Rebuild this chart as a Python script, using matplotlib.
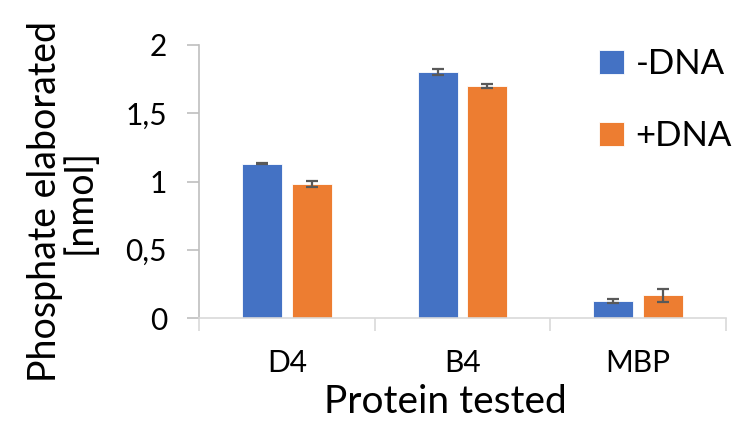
import matplotlib
matplotlib.use("Agg")
import matplotlib.pyplot as plt
import numpy as np

categories = ["D4", "B4", "MBP"]
series_names = ["-DNA", "+DNA"]
minus_dna = [1.13, 1.80, 0.124]
minus_err = [0.005, 0.022, 0.012]
plus_dna = [0.985, 1.70, 0.165]
plus_err = [0.022, 0.015, 0.045]
yticks = [0, 0.5, 1, 1.5, 2]
ytick_labels = ["0", "0,5", "1", "1,5", "2"]

plt.rcParams['font.family'] = ['Lato', 'DejaVu Sans']

fig = plt.figure(figsize=(7.40, 4.29), dpi=100)
ax = fig.add_axes([199/740, 1-318/429, (726-199)/740, (318-45)/429])

x = np.arange(len(categories))
w = 0.228
off = 0.142
ekw = dict(ecolor='#595959', elinewidth=1.6, capsize=4.5, capthick=1.6)
ax.bar(x - off, minus_dna, w, yerr=minus_err, color='#4472C4', label=series_names[0],
       error_kw=ekw, edgecolor='white', linewidth=0.6)
ax.bar(x + off, plus_dna, w, yerr=plus_err, color='#ED7D31', label=series_names[1],
       error_kw=ekw, edgecolor='white', linewidth=0.6)

ax.set_xlim(-0.5, 2.5)
ax.set_ylim(0, 2)
ax.set_yticks(yticks)
ax.set_yticklabels(ytick_labels, fontsize=21.5)
ax.set_xticks(x)
ax.set_xticklabels(categories, fontsize=21.5)
ax.tick_params(axis='x', length=0, pad=22)
ax.set_xticks([-0.5, 0.5, 1.5, 2.5], minor=True)
ax.tick_params(axis='x', which='minor', length=9, color='#d9d9d9', width=1.2)
ax.tick_params(axis='y', length=9, color='#bfbfbf', width=1.2, pad=14)

for s in ['top', 'right']:
    ax.spines[s].set_visible(False)
ax.spines['left'].set_color('#bfbfbf')
ax.spines['bottom'].set_color('#d9d9d9')
ax.spines['left'].set_linewidth(1.2)
ax.spines['bottom'].set_linewidth(1.2)

ax.set_xlabel("Protein tested", fontsize=28)
ax.xaxis.set_label_coords((445-199)/527, -(402-318)/273)
ax.xaxis.label.set_va('center')
ax.set_ylabel("Phosphate elaborated\n[nmol]", fontsize=27, linespacing=0.95)
ax.yaxis.set_label_coords((62-199)/527, (318-202)/273)
ax.yaxis.label.set_va('center')

fig.legend(loc='upper left', bbox_to_anchor=(568/740, 1-17/429), frameon=False,
           fontsize=25, handlelength=0.7, handleheight=0.7, handletextpad=0.35,
           labelspacing=1.15)

fig.savefig("out.png", dpi=100)
